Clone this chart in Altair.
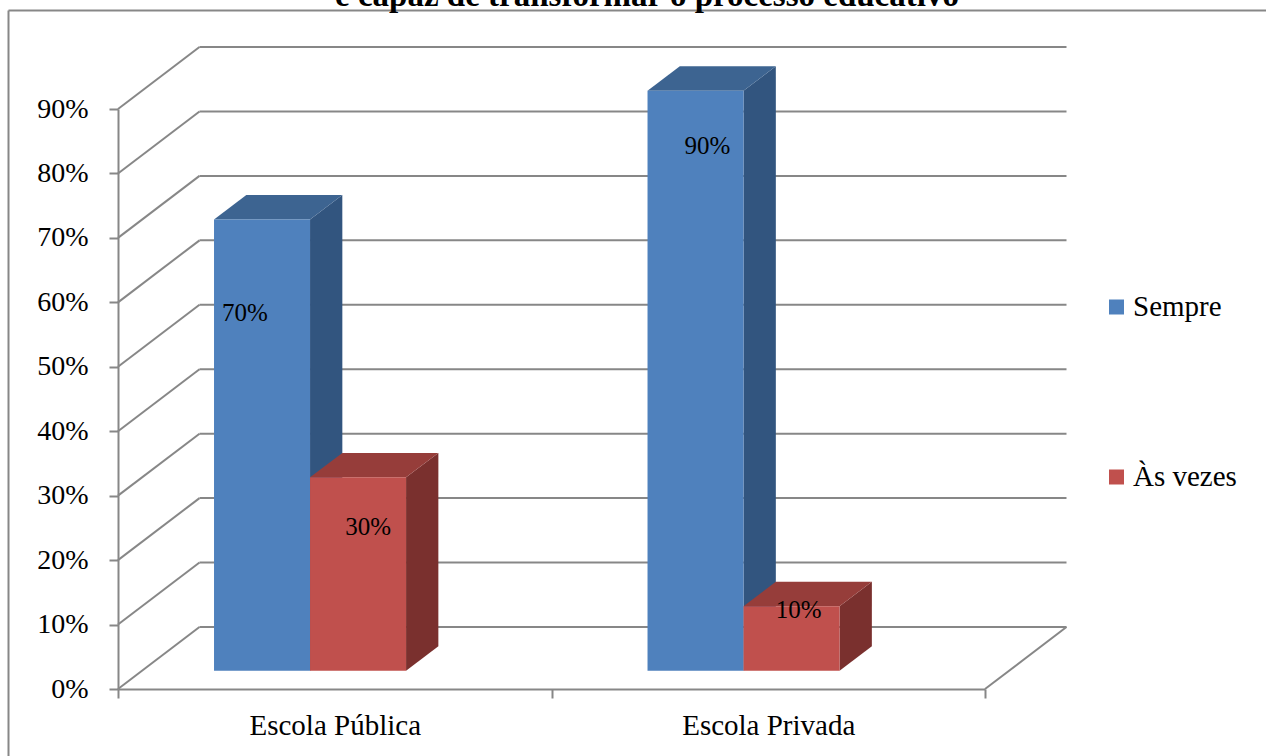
import altair as alt
import pandas as pd

# ---------------- data ----------------
categories = ["Escola Pública", "Escola Privada"]
series = ["Sempre", "Às vezes"]
sempre = [70, 90]
as_vezes = [30, 10]
y_ticks = [0, 10, 20, 30, 40, 50, 60, 70, 80, 90]
title_line = "é capaz de transformar o processo educativo"

# ---------------- layout / style ----------------
W, H = 867, 580
PX_PER_UNIT = W / 2.0
BW = 0.2215            # bar width (category units)
BASE = 2.84            # bar base lifted by depth (% units)
DDX, DDY = 0.0745, 3.8 # bar depth
WDX, WDY = 0.188, 9.62 # wall depth
front_colors = ["#4F81BD", "#C0504D"]
top_colors = ["#3D6491", "#963D3A"]
side_colors = ["#32557F", "#7A302E"]
# label anchor (height in bar frame, % units) and x shift in px, per series/category
label_h = [[55.5, 81.4], [22.3, 9.4]]
label_shift = [[-17, 12], [10, 7]]
GRAY = "#878787"
SERIF = "Liberation Serif, Times New Roman, serif"

values = [sempre, as_vezes]

front, tops, sides = [], [], []
for s, name in enumerate(series):
    for i, cat in enumerate(categories):
        v = values[s][i]
        L = i + (1 + s) * BW
        R = L + BW
        T = BASE + v
        bid = f"{s}-{i}"
        front.append(dict(series=name, s=s, cat=cat, x=L, x2=R, y=BASE, y2=T,
                          label=f"{v}%",
                          lx=(L + R) / 2 + label_shift[s][i] / PX_PER_UNIT,
                          ly=BASE + label_h[s][i]))
        for (xx, a, b) in [(L, T, T), (L + DDX, T, T + DDY), (R, T, T + DDY), (R + DDX, T + DDY, T + DDY)]:
            tops.append(dict(bar=bid, s=s, x=xx, y=a, y2=b))
        for (xx, a, b) in [(R, BASE, T), (R + DDX, BASE + DDY, T + DDY)]:
            sides.append(dict(bar=bid, s=s, x=xx, y=a, y2=b))

front_df = pd.DataFrame(front)
tops_df = pd.DataFrame(tops)
sides_df = pd.DataFrame(sides)

grid = []
for v in y_ticks:
    grid.append(dict(x=0, y=v, x2=WDX, y2=v + WDY))
    grid.append(dict(x=WDX, y=v + WDY, x2=2 + WDX, y2=v + WDY))
grid.append(dict(x=2, y=0, x2=2 + WDX, y2=WDY))
grid_df = pd.DataFrame(grid)

xscale = alt.Scale(domain=[0, 2], nice=False, zero=False)
yscale = alt.Scale(domain=[0, 90], nice=False, zero=False)

label_expr = (f"datum.value == 0.5 ? '{categories[0]}' : "
              f"datum.value == 1.5 ? '{categories[1]}' : ''")
xaxis = alt.Axis(values=[0, 0.5, 1, 1.5, 2], labelExpr=label_expr, grid=False,
                 domainColor=GRAY, domainWidth=2, tickColor=GRAY, tickWidth=2, tickSize=9,
                 tickOpacity={"condition": {"test": "datum.value % 1 !== 0", "value": 0}, "value": 1},
                 labelFont=SERIF, labelFontSize=29, labelColor="black", labelPadding=13,
                 labelOverlap=False, labelFlush=False, title=None)
yaxis = alt.Axis(values=y_ticks, labelExpr="datum.value + '%'", grid=False,
                 domainColor=GRAY, domainWidth=2, tickColor=GRAY, tickWidth=2, tickSize=9,
                 labelFont=SERIF, labelFontSize=28, labelColor="black", labelPadding=21,
                 labelOverlap=False, title=None)


def X(f):
    return alt.X(f, type="quantitative", scale=xscale, axis=xaxis)


def Y(f):
    return alt.Y(f, type="quantitative", scale=yscale, axis=yaxis)


grid_layer = alt.Chart(grid_df).mark_rule(color=GRAY, strokeWidth=2).encode(
    x=X("x"), y=Y("y"), x2="x2", y2="y2")

layers = [grid_layer]
for s, name in enumerate(series):
    side = alt.Chart(sides_df[sides_df.s == s]).mark_area(
        orient="vertical", color=side_colors[s], interpolate="linear").encode(
        x=X("x"), y=Y("y"), y2="y2", detail="bar:N")
    top = alt.Chart(tops_df[tops_df.s == s]).mark_area(
        orient="vertical", color=top_colors[s], interpolate="linear").encode(
        x=X("x"), y=Y("y"), y2="y2", detail="bar:N")
    fr = alt.Chart(front_df[front_df.s == s]).mark_rect().encode(
        x=X("x"), x2="x2", y=Y("y"), y2="y2",
        color=alt.Color("series:N", scale=alt.Scale(domain=series, range=front_colors),
                        legend=alt.Legend(orient="none", legendX=984, legendY=183.5, title=None,
                                          symbolType="square", symbolSize=225,
                                          symbolStrokeWidth=0, labelFontSize=29,
                                          labelFont=SERIF, labelColor="black",
                                          rowPadding=140, labelOffset=2, padding=0)))
    layers += [side, top, fr]

labels = alt.Chart(front_df).mark_text(font=SERIF, fontSize=25, color="black",
                                       baseline="middle", align="center").encode(
    x=X("lx"), y=Y("ly"), text="label:N")
layers.append(labels)

title = alt.Chart(pd.DataFrame({"t": [title_line]})).mark_text(
    font=SERIF, fontSize=33, fontWeight="bold", color="black",
    baseline="alphabetic", align="center").encode(
    x=alt.value(529), y=alt.value(-103), text="t:N")
frame_v = alt.Chart(pd.DataFrame({"a": [0]})).mark_rule(color=GRAY, strokeWidth=2).encode(
    x=alt.value(-109.5), y=alt.value(-98.5), y2=alt.value(700))
frame_h = alt.Chart(pd.DataFrame({"a": [0]})).mark_rule(color=GRAY, strokeWidth=2).encode(
    x=alt.value(-109.5), x2=alt.value(1200), y=alt.value(-98.5))
layers += [frame_v, frame_h, title]

chart = alt.layer(*layers).properties(
    width=W, height=H,
    padding={"left": 118, "top": 109, "right": 281, "bottom": 67},
    autosize=alt.AutoSizeParams(type="none"),
    background="white",
).configure_view(stroke=None)

chart.save("out.html", embed_options={"renderer": "svg", "actions": False})
